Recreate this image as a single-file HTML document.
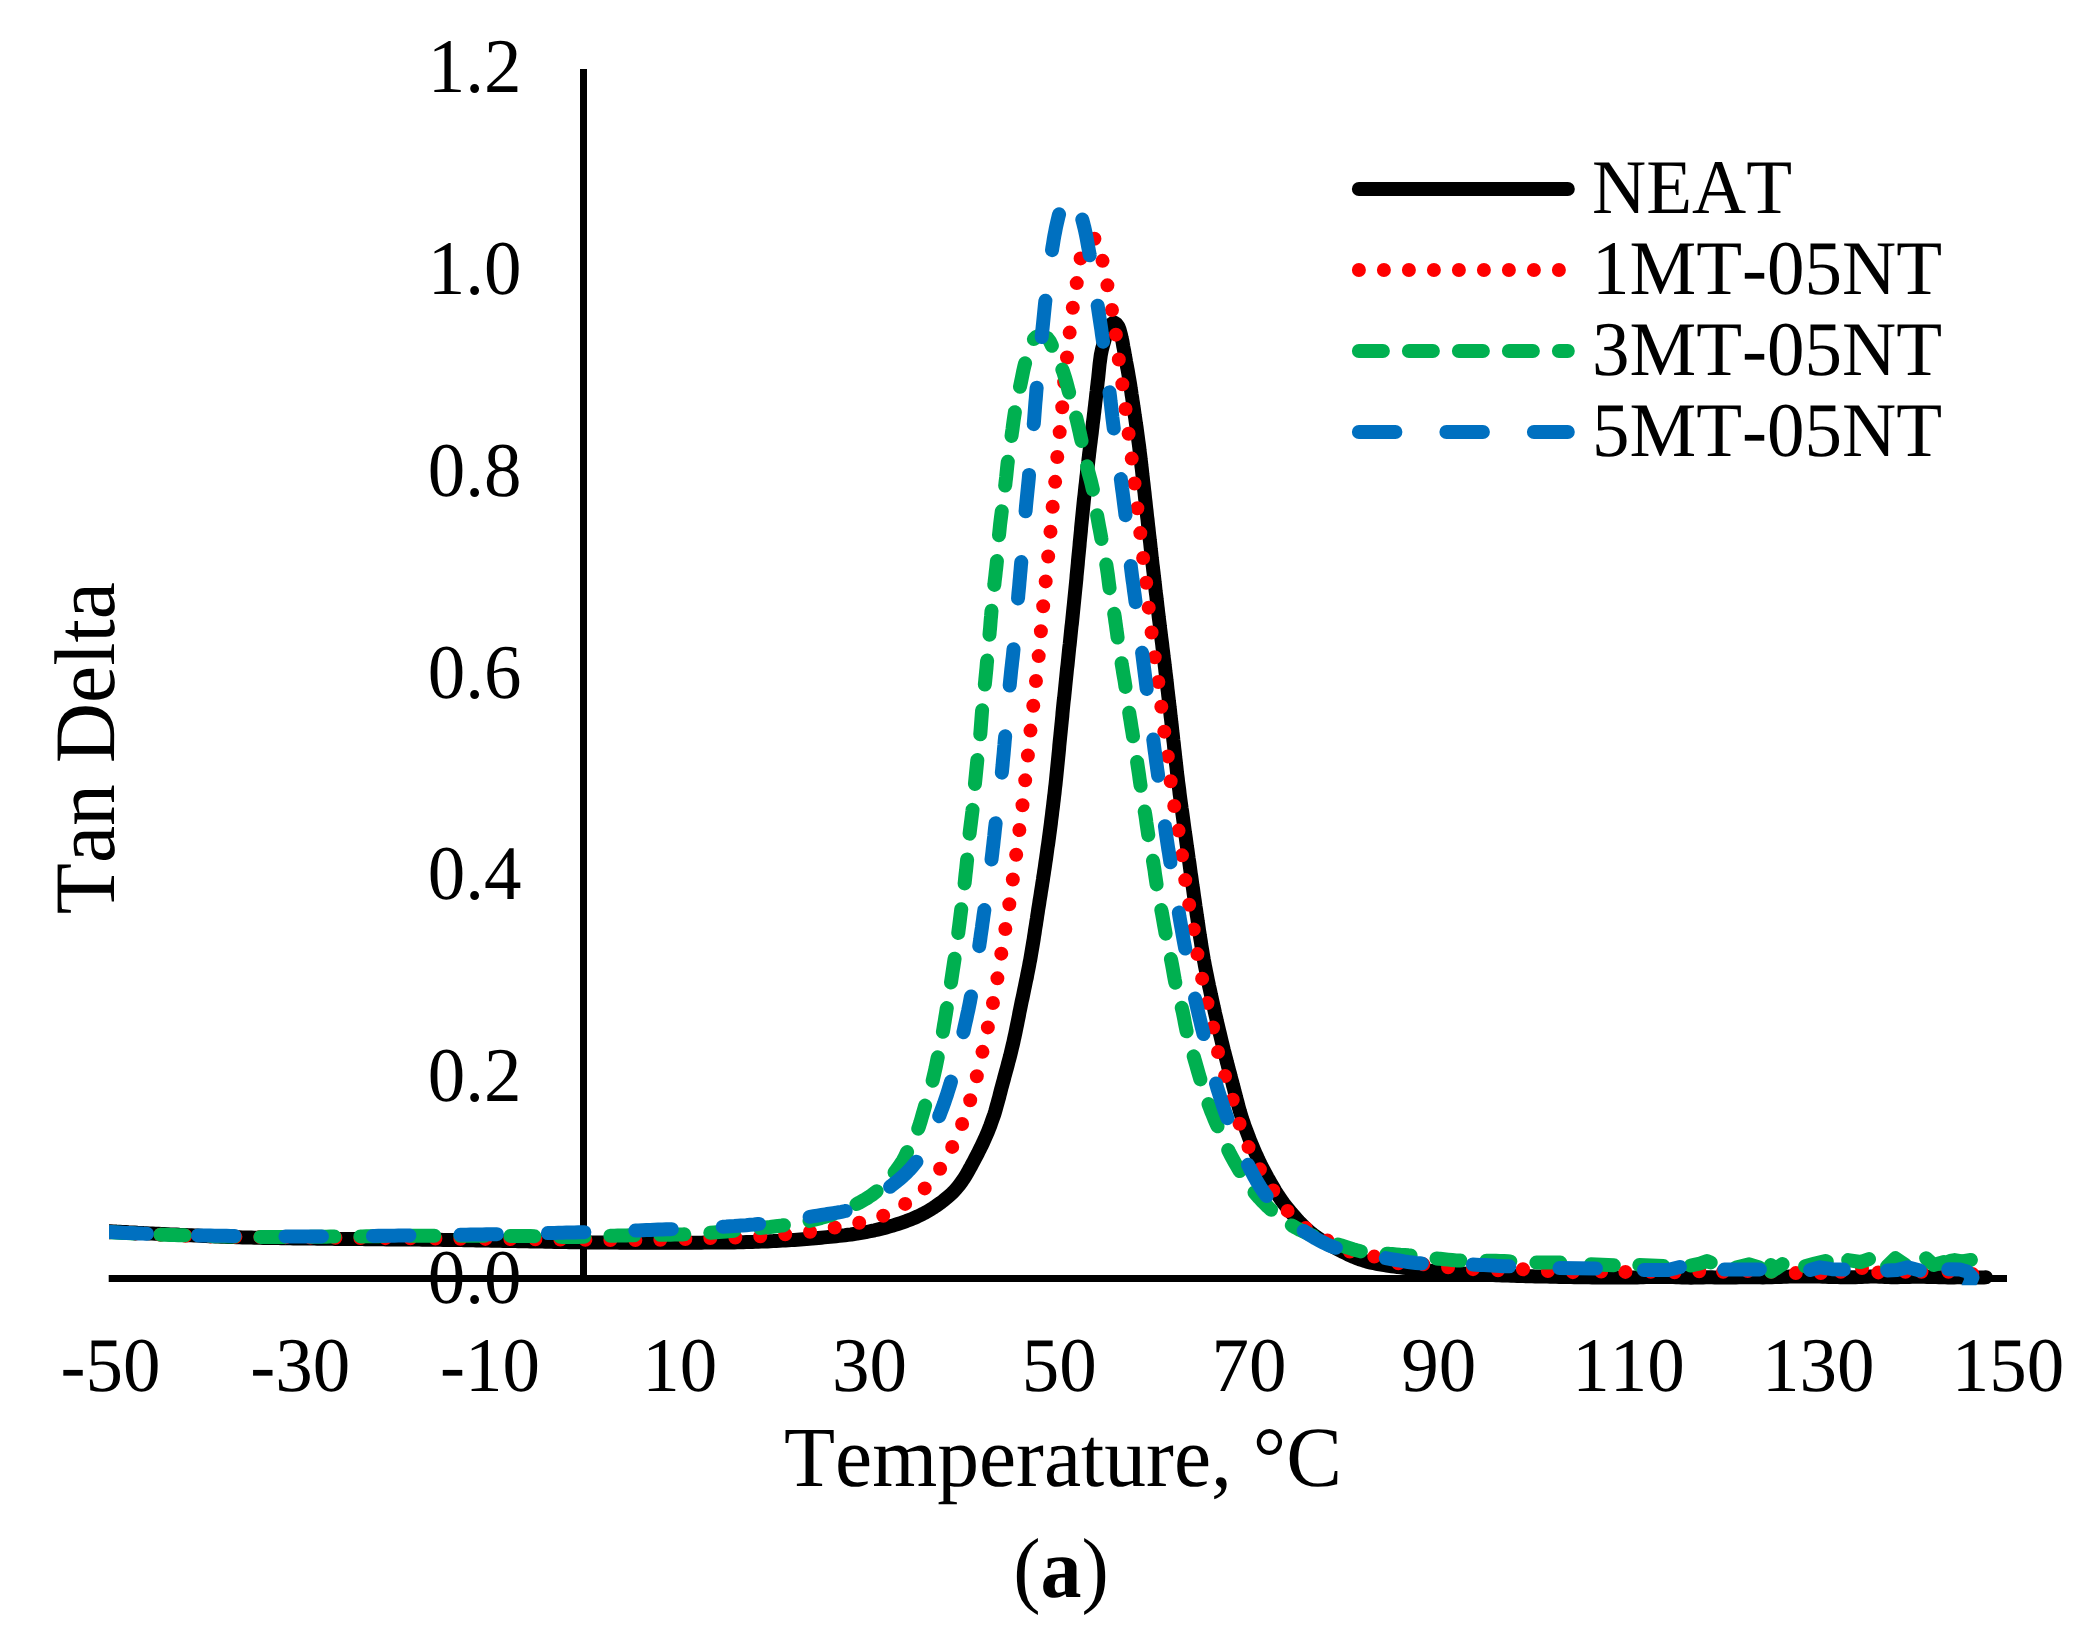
<!DOCTYPE html>
<html lang="en">
<head>
<meta charset="utf-8">
<title>Tan Delta vs Temperature (a)</title>
<style>
html,body{margin:0;padding:0;background:#fff;}
body{width:2079px;height:1641px;overflow:hidden;font-family:"Liberation Serif","Times New Roman",serif;}
svg{display:block;}
svg text{font-kerning:none;font-variant-ligatures:none;text-rendering:geometricPrecision;}
</style>
</head>
<body>
<svg width="2079" height="1641" viewBox="0 0 2079 1641">
<defs><clipPath id="plot"><rect x="109" y="60" width="1900" height="1225.3"/></clipPath></defs>
<rect width="2079" height="1641" fill="#fff"/>
<g stroke="#000" stroke-width="7" fill="none">
<line x1="108.7" y1="1278.5" x2="2007" y2="1278.5"/>
<line x1="583.5" y1="69" x2="583.5" y2="1278.5"/>
</g>
<g clip-path="url(#plot)" fill="none" stroke-width="14" stroke-linecap="round" stroke-linejoin="round">
<path id="s-neat" stroke="#000000" d="M110.5 1231.2L113.5 1231.4L116.5 1231.6L119.5 1231.7L122.5 1231.9L125.5 1232.1L128.5 1232.3L131.5 1232.4L134.5 1232.6L137.5 1232.8L140.5 1232.9
L143.4 1233.1L146.4 1233.2L149.4 1233.4L152.4 1233.5L155.4 1233.7L158.4 1233.8L161.4 1234.0L164.4 1234.1L167.4 1234.2L170.4 1234.4L173.4 1234.5
L176.4 1234.6L179.4 1234.8L182.4 1234.9L185.4 1235.0L188.4 1235.2L191.4 1235.3L194.4 1235.5L197.4 1235.6L200.4 1235.7L203.4 1235.9L206.4 1236.0
L209.4 1236.2L212.4 1236.3L215.4 1236.4L218.4 1236.5L221.4 1236.7L224.4 1236.8L227.4 1236.9L230.4 1237.0L233.4 1237.1L236.4 1237.2L239.4 1237.3
L242.4 1237.4L245.4 1237.5L248.4 1237.6L251.3 1237.6L254.3 1237.7L257.3 1237.8L260.3 1237.8L263.3 1237.9L266.3 1237.9L269.3 1238.0L272.3 1238.0
L275.3 1238.1L278.3 1238.1L281.3 1238.2L284.3 1238.2L287.3 1238.3L290.3 1238.3L293.3 1238.4L296.3 1238.4L299.3 1238.4L302.3 1238.5L305.3 1238.5
L308.3 1238.6L311.3 1238.6L314.3 1238.6L317.3 1238.7L320.3 1238.7L323.3 1238.7L326.3 1238.8L329.3 1238.8L332.3 1238.8L335.3 1238.9L338.3 1238.9
L341.3 1238.9L344.3 1239.0L347.3 1239.0L350.3 1239.0L353.3 1239.1L356.3 1239.1L359.3 1239.1L362.3 1239.1L365.3 1239.2L368.3 1239.2L371.3 1239.2
L374.3 1239.3L377.3 1239.3L380.3 1239.3L383.3 1239.3L386.3 1239.4L389.3 1239.4L392.3 1239.4L395.3 1239.4L398.3 1239.4L401.3 1239.5L404.3 1239.5
L407.3 1239.5L410.3 1239.5L413.3 1239.6L416.3 1239.6L419.3 1239.6L422.3 1239.7L425.3 1239.7L428.3 1239.7L431.3 1239.7L434.3 1239.8L437.3 1239.8
L440.3 1239.8L443.3 1239.9L446.3 1239.9L449.3 1240.0L452.3 1240.0L455.3 1240.0L458.3 1240.1L461.3 1240.1L464.3 1240.2L467.3 1240.2L470.3 1240.3
L473.3 1240.3L476.3 1240.4L479.3 1240.4L482.3 1240.5L485.3 1240.5L488.3 1240.6L491.3 1240.7L494.3 1240.7L497.3 1240.8L500.3 1240.8L503.3 1240.9
L506.3 1240.9L509.3 1241.0L512.3 1241.1L515.3 1241.1L518.3 1241.2L521.3 1241.2L524.3 1241.3L527.3 1241.3L530.3 1241.4L533.3 1241.5L536.3 1241.5
L539.3 1241.6L542.3 1241.6L545.3 1241.7L548.3 1241.8L551.3 1241.8L554.3 1241.9L557.3 1241.9L560.3 1242.0L563.3 1242.1L566.3 1242.1L569.3 1242.2
L572.3 1242.2L575.3 1242.3L578.3 1242.3L581.3 1242.3L584.3 1242.4L587.3 1242.4L590.3 1242.4L593.3 1242.5L596.3 1242.5L599.3 1242.5L602.3 1242.5
L605.3 1242.6L608.3 1242.6L611.3 1242.6L614.3 1242.6L617.3 1242.6L620.3 1242.7L623.3 1242.7L626.3 1242.7L629.3 1242.7L632.3 1242.7L635.3 1242.7
L638.3 1242.8L641.3 1242.8L644.3 1242.8L647.3 1242.8L650.3 1242.8L653.3 1242.8L656.3 1242.8L659.3 1242.8L662.3 1242.8L665.3 1242.8L668.3 1242.8
L671.3 1242.8L674.3 1242.8L677.3 1242.8L680.3 1242.8L683.3 1242.7L686.3 1242.7L689.3 1242.7L692.3 1242.7L695.3 1242.7L698.3 1242.7L701.3 1242.7
L704.3 1242.6L707.3 1242.6L710.3 1242.6L713.3 1242.6L716.3 1242.5L719.3 1242.5L722.3 1242.5L725.3 1242.5L728.3 1242.4L731.3 1242.4L734.3 1242.4
L737.3 1242.3L740.3 1242.2L743.3 1242.2L746.3 1242.1L749.3 1242.0L752.3 1241.9L755.3 1241.8L758.3 1241.7L761.3 1241.6L764.3 1241.5L767.3 1241.4
L770.3 1241.2L773.3 1241.1L776.3 1240.9L779.3 1240.8L782.3 1240.6L785.3 1240.5L788.3 1240.3L791.3 1240.1L794.3 1239.9L797.2 1239.7L800.2 1239.5
L803.2 1239.3L806.2 1239.1L809.2 1238.8L812.2 1238.6L815.2 1238.3L818.2 1238.0L821.2 1237.7L824.2 1237.4L827.1 1237.1L830.1 1236.8L833.1 1236.5
L836.1 1236.2L839.1 1235.9L842.1 1235.5L845.0 1235.2L848.0 1234.8L851.0 1234.5L854.0 1234.0L856.9 1233.6L859.9 1233.1L862.9 1232.6L865.8 1232.1
L868.8 1231.5L871.7 1230.9L874.6 1230.3L877.6 1229.6L880.5 1228.9L883.4 1228.2L886.3 1227.4L889.2 1226.6L892.1 1225.8L894.9 1224.9L897.8 1224.0
L900.6 1223.1L903.5 1222.1L906.3 1221.1L909.1 1220.0L911.9 1218.9L914.7 1217.7L917.4 1216.5L920.1 1215.2L922.8 1213.9L925.5 1212.5L928.1 1211.0
L930.6 1209.5L933.2 1207.9L935.6 1206.3L938.1 1204.5L940.5 1202.8L942.9 1201.0L945.3 1199.1L947.6 1197.2L949.8 1195.3L952.0 1193.2L954.1 1191.1
L956.1 1188.9L958.0 1186.6L959.9 1184.3L961.6 1181.9L963.3 1179.4L964.9 1176.9L966.5 1174.3L968.0 1171.7L969.4 1169.1L970.9 1166.5L972.3 1163.8
L973.7 1161.2L975.1 1158.5L976.5 1155.9L977.9 1153.2L979.2 1150.5L980.6 1147.8L981.9 1145.1L983.2 1142.4L984.4 1139.7L985.6 1137.0L986.8 1134.2
L988.0 1131.4L989.1 1128.7L990.2 1125.9L991.2 1123.0L992.2 1120.2L993.2 1117.4L994.2 1114.6L995.1 1111.7L995.9 1108.8L996.7 1105.9L997.5 1103.1
L998.3 1100.2L999.1 1097.3L999.8 1094.4L1000.6 1091.4L1001.3 1088.5L1002.1 1085.6L1002.9 1082.7L1003.7 1079.9L1004.4 1077.0L1005.2 1074.1
L1006.0 1071.2L1006.8 1068.3L1007.6 1065.4L1008.3 1062.5L1009.1 1059.6L1009.9 1056.7L1010.6 1053.8L1011.3 1050.8L1012.0 1047.9L1012.7 1045.0
L1013.4 1042.1L1014.0 1039.2L1014.7 1036.2L1015.3 1033.3L1015.9 1030.4L1016.5 1027.4L1017.1 1024.5L1017.7 1021.5L1018.3 1018.6L1018.9 1015.7
L1019.4 1012.7L1020.0 1009.8L1020.6 1006.8L1021.2 1003.9L1021.8 1000.9L1022.5 998.0L1023.1 995.1L1023.7 992.1L1024.3 989.2L1024.9 986.3L1025.5 983.3
L1026.1 980.4L1026.8 977.5L1027.3 974.5L1027.9 971.6L1028.5 968.6L1029.1 965.7L1029.6 962.7L1030.2 959.8L1030.7 956.8L1031.2 953.9L1031.7 950.9
L1032.2 948.0L1032.7 945.0L1033.2 942.0L1033.7 939.1L1034.1 936.1L1034.6 933.2L1035.0 930.2L1035.5 927.2L1036.0 924.3L1036.4 921.3L1036.9 918.3
L1037.3 915.4L1037.8 912.4L1038.2 909.4L1038.7 906.5L1039.2 903.5L1039.6 900.5L1040.1 897.6L1040.6 894.6L1041.0 891.6L1041.5 888.7L1042.0 885.7
L1042.4 882.8L1042.9 879.8L1043.3 876.8L1043.8 873.9L1044.2 870.9L1044.7 867.9L1045.1 865.0L1045.5 862.0L1046.0 859.0L1046.4 856.0L1046.8 853.1
L1047.2 850.1L1047.6 847.1L1048.1 844.2L1048.5 841.2L1048.9 838.2L1049.3 835.2L1049.7 832.3L1050.1 829.3L1050.5 826.3L1050.9 823.3L1051.2 820.4
L1051.6 817.4L1052.0 814.4L1052.3 811.4L1052.7 808.5L1053.1 805.5L1053.4 802.5L1053.8 799.5L1054.1 796.5L1054.5 793.6L1054.8 790.6L1055.1 787.6
L1055.5 784.6L1055.8 781.6L1056.1 778.7L1056.4 775.7L1056.7 772.7L1057.0 769.7L1057.3 766.7L1057.6 763.7L1057.9 760.8L1058.2 757.8L1058.5 754.8
L1058.8 751.8L1059.1 748.8L1059.3 745.8L1059.6 742.8L1059.9 739.8L1060.2 736.9L1060.5 733.9L1060.8 730.9L1061.1 727.9L1061.4 724.9L1061.7 721.9
L1062.0 718.9L1062.3 716.0L1062.5 713.0L1062.8 710.0L1063.1 707.0L1063.4 704.0L1063.7 701.0L1064.1 698.0L1064.4 695.1L1064.7 692.1L1065.0 689.1
L1065.3 686.1L1065.6 683.1L1065.9 680.1L1066.2 677.2L1066.5 674.2L1066.8 671.2L1067.1 668.2L1067.5 665.2L1067.8 662.2L1068.1 659.3L1068.4 656.3
L1068.7 653.3L1069.0 650.3L1069.3 647.3L1069.7 644.3L1070.0 641.4L1070.3 638.4L1070.6 635.4L1070.9 632.4L1071.2 629.4L1071.5 626.4L1071.9 623.5
L1072.2 620.5L1072.5 617.5L1072.8 614.5L1073.1 611.5L1073.4 608.5L1073.7 605.6L1074.0 602.6L1074.3 599.6L1074.6 596.6L1074.9 593.6L1075.2 590.6
L1075.5 587.6L1075.8 584.7L1076.1 581.7L1076.4 578.7L1076.6 575.7L1076.9 572.7L1077.2 569.7L1077.5 566.7L1077.8 563.7L1078.0 560.8L1078.3 557.8
L1078.6 554.8L1078.9 551.8L1079.2 548.8L1079.5 545.8L1079.7 542.8L1080.0 539.9L1080.3 536.9L1080.6 533.9L1080.9 530.9L1081.1 527.9L1081.4 524.9
L1081.7 521.9L1082.0 518.9L1082.3 516.0L1082.6 513.0L1082.9 510.0L1083.2 507.0L1083.5 504.0L1083.8 501.0L1084.1 498.1L1084.5 495.1L1084.8 492.1
L1085.1 489.1L1085.4 486.1L1085.8 483.1L1086.1 480.2L1086.4 477.2L1086.8 474.2L1087.1 471.2L1087.5 468.2L1087.8 465.3L1088.2 462.3L1088.5 459.3
L1088.9 456.3L1089.2 453.3L1089.6 450.4L1089.9 447.4L1090.3 444.4L1090.7 441.4L1091.0 438.5L1091.4 435.5L1091.8 432.5L1092.1 429.5L1092.5 426.5
L1092.8 423.6L1093.2 420.6L1093.6 417.6L1093.9 414.6L1094.3 411.7L1094.6 408.7L1095.0 405.7L1095.3 402.7L1095.7 399.7L1096.0 396.8L1096.3 393.8
L1096.7 390.8L1097.0 387.8L1097.4 384.8L1097.7 381.8L1098.1 378.9L1098.4 375.9L1098.7 372.9L1099.0 369.9L1099.3 366.9L1099.6 363.9L1100.0 361.0
L1100.4 358.0L1100.8 355.0L1101.4 352.1L1102.0 349.2L1102.8 346.2L1103.6 343.3L1104.4 340.5L1105.2 337.5L1106.0 334.5L1106.9 331.6L1108.0 328.8
L1109.4 326.4L1111.6 323.8L1114.0 322.5L1116.4 324.0L1118.4 326.7L1119.5 329.4L1120.3 332.3L1121.1 335.3L1121.7 338.2L1122.4 341.1L1122.9 344.1
L1123.4 347.0L1124.0 350.0L1124.5 353.0L1125.0 355.9L1125.6 358.9L1126.1 361.8L1126.7 364.8L1127.2 367.7L1127.8 370.7L1128.3 373.6L1128.8 376.6
L1129.3 379.5L1129.8 382.5L1130.3 385.5L1130.7 388.4L1131.2 391.4L1131.6 394.3L1132.1 397.3L1132.5 400.3L1133.0 403.2L1133.4 406.2L1133.9 409.2
L1134.3 412.1L1134.7 415.1L1135.2 418.1L1135.6 421.1L1136.0 424.0L1136.5 427.0L1136.9 430.0L1137.3 432.9L1137.7 435.9L1138.1 438.9L1138.5 441.9
L1138.9 444.8L1139.3 447.8L1139.6 450.8L1140.0 453.8L1140.4 456.7L1140.7 459.7L1141.1 462.7L1141.4 465.7L1141.8 468.7L1142.1 471.6L1142.4 474.6
L1142.8 477.6L1143.1 480.6L1143.5 483.6L1143.8 486.5L1144.1 489.5L1144.5 492.5L1144.8 495.5L1145.1 498.5L1145.5 501.4L1145.8 504.4L1146.1 507.4
L1146.5 510.4L1146.8 513.4L1147.1 516.4L1147.5 519.3L1147.8 522.3L1148.1 525.3L1148.5 528.3L1148.8 531.3L1149.1 534.2L1149.5 537.2L1149.8 540.2
L1150.2 543.2L1150.5 546.2L1150.8 549.1L1151.2 552.1L1151.5 555.1L1151.8 558.1L1152.2 561.1L1152.5 564.1L1152.9 567.0L1153.2 570.0L1153.6 573.0
L1153.9 576.0L1154.3 579.0L1154.6 581.9L1155.0 584.9L1155.3 587.9L1155.6 590.9L1156.0 593.9L1156.4 596.8L1156.7 599.8L1157.1 602.8L1157.4 605.8
L1157.8 608.7L1158.1 611.7L1158.5 614.7L1158.8 617.7L1159.2 620.7L1159.6 623.6L1159.9 626.6L1160.3 629.6L1160.7 632.6L1161.0 635.5L1161.4 638.5
L1161.8 641.5L1162.2 644.5L1162.5 647.5L1162.9 650.4L1163.3 653.4L1163.6 656.4L1164.0 659.4L1164.4 662.3L1164.7 665.3L1165.1 668.3L1165.4 671.3
L1165.8 674.3L1166.2 677.2L1166.5 680.2L1166.9 683.2L1167.2 686.2L1167.5 689.2L1167.9 692.1L1168.2 695.1L1168.6 698.1L1168.9 701.1L1169.3 704.1
L1169.6 707.0L1170.0 710.0L1170.3 713.0L1170.6 716.0L1171.0 719.0L1171.3 721.9L1171.7 724.9L1172.0 727.9L1172.3 730.9L1172.7 733.9L1173.0 736.8
L1173.3 739.8L1173.7 742.8L1174.0 745.8L1174.3 748.8L1174.7 751.7L1175.0 754.7L1175.3 757.7L1175.7 760.7L1176.0 763.7L1176.4 766.7L1176.7 769.6
L1177.0 772.6L1177.4 775.6L1177.8 778.6L1178.1 781.6L1178.5 784.5L1178.9 787.5L1179.3 790.5L1179.6 793.5L1180.0 796.4L1180.4 799.4L1180.8 802.4
L1181.2 805.3L1181.6 808.3L1182.1 811.3L1182.5 814.3L1182.9 817.2L1183.3 820.2L1183.7 823.2L1184.1 826.1L1184.5 829.1L1184.9 832.1L1185.4 835.1
L1185.8 838.0L1186.2 841.0L1186.6 844.0L1187.0 846.9L1187.5 849.9L1187.9 852.9L1188.3 855.9L1188.7 858.8L1189.2 861.8L1189.6 864.8L1190.0 867.7
L1190.4 870.7L1190.8 873.7L1191.3 876.6L1191.7 879.6L1192.1 882.6L1192.5 885.6L1193.0 888.5L1193.4 891.5L1193.8 894.5L1194.2 897.4L1194.7 900.4
L1195.1 903.4L1195.5 906.3L1196.0 909.3L1196.4 912.3L1196.8 915.2L1197.3 918.2L1197.7 921.2L1198.2 924.2L1198.6 927.1L1199.0 930.1L1199.5 933.1
L1199.9 936.0L1200.4 939.0L1200.9 942.0L1201.3 944.9L1201.8 947.9L1202.3 950.8L1202.8 953.8L1203.3 956.7L1203.8 959.7L1204.4 962.6L1204.9 965.6
L1205.5 968.5L1206.1 971.5L1206.7 974.4L1207.3 977.4L1207.9 980.3L1208.5 983.2L1209.1 986.2L1209.8 989.1L1210.4 992.0L1211.0 995.0L1211.7 997.9
L1212.3 1000.8L1213.0 1003.8L1213.6 1006.7L1214.3 1009.6L1214.9 1012.5L1215.6 1015.5L1216.3 1018.4L1216.9 1021.3L1217.6 1024.2L1218.3 1027.2
L1219.0 1030.1L1219.7 1033.0L1220.4 1035.9L1221.1 1038.8L1221.8 1041.8L1222.5 1044.7L1223.2 1047.6L1223.9 1050.5L1224.7 1053.4L1225.4 1056.3
L1226.2 1059.2L1226.9 1062.1L1227.7 1065.0L1228.4 1067.9L1229.2 1070.8L1230.0 1073.7L1230.7 1076.6L1231.5 1079.5L1232.3 1082.4L1233.0 1085.3
L1233.8 1088.2L1234.5 1091.1L1235.3 1094.0L1236.0 1096.9L1236.8 1099.8L1237.6 1102.7L1238.3 1105.6L1239.1 1108.5L1239.9 1111.4L1240.8 1114.3
L1241.7 1117.2L1242.6 1120.0L1243.6 1122.8L1244.5 1125.7L1245.6 1128.5L1246.6 1131.3L1247.7 1134.1L1248.7 1136.9L1249.8 1139.7L1250.9 1142.5
L1252.1 1145.3L1253.2 1148.0L1254.4 1150.8L1255.6 1153.5L1256.9 1156.3L1258.1 1159.0L1259.4 1161.7L1260.7 1164.4L1262.1 1167.1L1263.5 1169.7
L1264.9 1172.4L1266.3 1175.0L1267.7 1177.7L1269.2 1180.3L1270.7 1182.9L1272.2 1185.5L1273.7 1188.1L1275.2 1190.7L1276.8 1193.2L1278.4 1195.7
L1280.1 1198.2L1281.8 1200.7L1283.5 1203.1L1285.4 1205.5L1287.2 1207.8L1289.1 1210.2L1291.1 1212.5L1293.0 1214.8L1295.0 1217.0L1297.0 1219.3
L1299.0 1221.5L1301.1 1223.7L1303.2 1225.9L1305.3 1227.9L1307.5 1229.9L1309.7 1231.8L1312.0 1233.7L1314.4 1235.5L1316.8 1237.2L1319.3 1238.8
L1321.8 1240.4L1324.4 1242.0L1327.0 1243.5L1329.7 1244.9L1332.3 1246.4L1335.0 1247.8L1337.7 1249.2L1340.3 1250.6L1343.0 1252.0L1345.7 1253.3
L1348.4 1254.6L1351.2 1255.9L1353.9 1257.1L1356.7 1258.2L1359.5 1259.3L1362.3 1260.2L1365.1 1261.1L1368.0 1261.9L1370.9 1262.6L1373.9 1263.2
L1376.8 1263.8L1379.7 1264.4L1382.7 1264.9L1385.7 1265.3L1388.6 1265.8L1391.6 1266.2L1394.6 1266.6L1397.6 1267.0L1400.5 1267.3L1403.5 1267.7
L1406.5 1268.1L1409.5 1268.5L1412.4 1268.8L1415.4 1269.2L1418.4 1269.5L1421.4 1269.9L1424.4 1270.2L1427.4 1270.5L1430.3 1270.8L1433.3 1271.1
L1436.3 1271.4L1439.3 1271.7L1442.3 1272.0L1445.3 1272.3L1448.3 1272.5L1451.3 1272.8L1454.2 1273.0L1457.2 1273.2L1460.2 1273.4L1463.2 1273.6
L1466.2 1273.8L1469.2 1274.0L1472.2 1274.1L1475.2 1274.3L1478.2 1274.4L1481.2 1274.6L1484.2 1274.7L1487.2 1274.8L1490.2 1275.0L1493.2 1275.1
L1496.2 1275.2L1499.2 1275.3L1502.2 1275.4L1505.2 1275.5L1508.2 1275.6L1511.2 1275.7L1514.2 1275.8L1517.2 1275.9L1520.2 1276.0L1523.2 1276.1
L1526.2 1276.2L1529.2 1276.2L1532.2 1276.3L1535.2 1276.4L1538.2 1276.5L1541.2 1276.5L1544.2 1276.6L1547.2 1276.6L1550.2 1276.7L1553.2 1276.8
L1556.2 1276.8L1559.2 1276.9L1562.2 1277.0L1565.2 1277.0L1568.2 1277.1L1571.2 1277.1L1574.2 1277.2L1577.2 1277.2L1580.2 1277.2L1583.2 1277.3
L1586.2 1277.3L1589.2 1277.3L1592.2 1277.4L1595.2 1277.4L1598.2 1277.4L1601.2 1277.4L1604.2 1277.4L1607.2 1277.4L1610.2 1277.4L1613.2 1277.4
L1616.2 1277.4L1619.2 1277.4L1622.2 1277.4L1625.2 1277.4L1628.2 1277.4L1631.1 1277.4L1634.1 1277.4L1637.1 1277.4L1640.1 1277.3L1643.1 1277.2
L1646.1 1277.1L1649.1 1277.1L1652.1 1277.0L1655.1 1277.0L1658.1 1277.0L1661.1 1276.9L1664.1 1276.9L1667.1 1277.0L1670.1 1277.0L1673.1 1277.1
L1676.1 1277.2L1679.1 1277.3L1682.1 1277.4L1685.1 1277.6L1688.1 1277.6L1691.0 1277.7L1694.0 1277.6L1697.0 1277.5L1700.0 1277.4L1703.0 1277.4
L1706.0 1277.3L1709.0 1277.3L1712.0 1277.3L1714.9 1277.4L1717.9 1277.4L1720.9 1277.5L1723.9 1277.5L1726.9 1277.6L1729.9 1277.5L1732.9 1277.5
L1735.9 1277.4L1738.9 1277.3L1741.9 1277.3L1744.9 1277.2L1747.9 1277.2L1750.9 1277.2L1753.9 1277.2L1756.9 1277.3L1759.9 1277.3L1762.9 1277.4
L1765.8 1277.3L1768.8 1277.3L1771.8 1277.2L1774.8 1277.1L1777.8 1277.0L1780.8 1276.9L1783.7 1276.8L1786.7 1276.7L1789.7 1276.6L1792.7 1276.5
L1795.7 1276.5L1798.7 1276.4L1801.7 1276.4L1804.7 1276.4L1807.7 1276.4L1810.7 1276.4L1813.7 1276.5L1816.6 1276.6L1819.6 1276.6L1822.6 1276.7
L1825.6 1276.8L1828.6 1276.9L1831.6 1276.9L1834.6 1277.0L1837.6 1277.1L1840.5 1277.2L1843.5 1277.3L1846.5 1277.3L1849.5 1277.3L1852.5 1277.3
L1855.5 1277.2L1858.5 1277.1L1861.5 1277.0L1864.5 1276.8L1867.4 1276.7L1870.4 1276.6L1873.4 1276.6L1876.3 1276.6L1879.3 1276.7L1882.3 1276.8
L1885.3 1277.0L1888.3 1277.1L1891.3 1277.2L1894.3 1277.2L1897.3 1277.2L1900.2 1277.1L1903.2 1277.0L1906.2 1277.0L1909.2 1276.9L1912.2 1276.8
L1915.2 1276.8L1918.2 1276.8L1921.2 1276.8L1924.2 1276.8L1927.2 1276.9L1930.2 1276.9L1933.1 1277.0L1936.1 1277.1L1939.1 1277.2L1942.1 1277.3
L1945.1 1277.3L1948.1 1277.4L1951.0 1277.4L1954.0 1277.4L1957.0 1277.3L1960.0 1277.3L1963.0 1277.4L1966.0 1277.4L1969.0 1277.5L1972.0 1277.5
L1974.9 1277.6L1977.9 1277.5L1980.9 1277.5L1983.9 1277.4L1985.9 1277.3"/>
<path id="s-1mt" stroke="#FF0000" stroke-dasharray="0 25" d="M110.5 1232.3L114.5 1232.5L118.5 1232.7L122.5 1233.0L126.5 1233.2L130.5 1233.4L134.5 1233.6L138.5 1233.8L142.5 1234.0L146.5 1234.2L150.5 1234.4
L154.5 1234.5L158.5 1234.7L162.4 1234.9L166.4 1235.0L170.4 1235.2L174.4 1235.4L178.4 1235.5L182.4 1235.6L186.4 1235.8L190.4 1235.9L194.4 1236.0
L198.4 1236.1L202.4 1236.2L206.4 1236.3L210.4 1236.4L214.4 1236.5L215.0 1236.5L218.4 1236.6L222.4 1236.6L226.4 1236.7L230.4 1236.8L234.4 1236.8
L238.4 1236.9L242.4 1236.9L246.4 1237.0L250.4 1237.0L254.4 1237.1L258.4 1237.1L262.4 1237.1L266.4 1237.2L270.4 1237.2L274.4 1237.3L278.4 1237.3
L282.4 1237.3L286.4 1237.4L290.4 1237.4L294.4 1237.4L298.4 1237.5L300.0 1237.5L302.4 1237.5L306.4 1237.6L310.4 1237.6L314.4 1237.6L318.4 1237.7
L322.4 1237.7L326.4 1237.7L330.4 1237.8L334.4 1237.8L338.4 1237.8L342.4 1237.8L346.4 1237.9L350.4 1237.9L354.4 1237.9L358.4 1238.0L362.4 1238.0
L366.4 1238.0L370.4 1238.0L374.4 1238.1L378.4 1238.1L382.4 1238.1L386.4 1238.2L390.4 1238.2L394.4 1238.2L398.4 1238.2L402.4 1238.3L406.4 1238.3
L410.4 1238.3L414.4 1238.3L418.4 1238.4L422.4 1238.4L426.4 1238.4L430.4 1238.5L434.4 1238.5L435.0 1238.5L438.4 1238.5L442.4 1238.6L446.4 1238.6
L450.4 1238.6L454.4 1238.6L458.4 1238.7L462.4 1238.7L466.4 1238.7L470.4 1238.8L474.4 1238.8L478.4 1238.8L482.4 1238.9L486.4 1238.9L490.4 1238.9
L494.4 1239.0L498.4 1239.0L502.4 1239.0L506.4 1239.0L510.4 1239.1L514.4 1239.1L518.4 1239.1L522.4 1239.2L526.4 1239.2L530.4 1239.2L534.4 1239.3
L538.4 1239.3L542.4 1239.3L546.4 1239.4L550.4 1239.4L554.4 1239.4L558.4 1239.5L560.0 1239.5L562.4 1239.5L566.4 1239.6L570.4 1239.6L574.4 1239.7
L578.4 1239.7L582.4 1239.8L586.4 1239.8L590.4 1239.9L594.4 1239.9L598.4 1240.0L602.4 1240.0L606.4 1240.0L610.0 1240.0L610.4 1240.0L614.4 1240.0
L618.4 1240.0L622.4 1240.0L626.4 1240.0L630.4 1240.0L634.4 1240.0L636.0 1240.0L638.4 1240.0L642.4 1240.0L646.4 1239.9L650.4 1239.9L654.4 1239.8
L658.4 1239.7L661.0 1239.7L662.4 1239.7L666.4 1239.6L670.4 1239.5L674.4 1239.4L678.4 1239.3L682.4 1239.2L686.0 1239.1L686.4 1239.1L690.4 1238.9
L694.4 1238.8L698.4 1238.6L702.4 1238.4L706.4 1238.2L710.4 1238.1L710.6 1238.1L714.4 1238.0L718.4 1237.9L722.4 1237.8L726.4 1237.7L730.4 1237.6
L734.4 1237.5L735.5 1237.5L738.4 1237.4L742.4 1237.2L746.4 1237.0L750.3 1236.8L754.3 1236.6L758.3 1236.3L760.5 1236.2L762.3 1236.1L766.3 1235.8
L770.3 1235.5L774.3 1235.2L778.3 1234.9L782.3 1234.6L785.5 1234.3L786.3 1234.2L790.2 1233.9L794.2 1233.5L798.2 1233.2L802.2 1232.8L806.2 1232.3
L810.1 1231.8L810.5 1231.8L814.1 1231.3L818.0 1230.7L822.0 1230.0L825.9 1229.2L829.8 1228.5L833.8 1227.7L835.1 1227.5L837.7 1227.0L841.7 1226.3
L845.6 1225.6L849.5 1224.8L853.5 1224.1L857.4 1223.2L859.6 1222.7L861.2 1222.3L865.1 1221.3L869.0 1220.3L872.9 1219.2L876.7 1218.0L880.5 1216.7
L883.6 1215.6L884.2 1215.4L887.8 1213.8L891.4 1212.0L895.0 1210.1L898.5 1208.1L901.9 1205.9L905.3 1203.8L905.7 1203.5L908.6 1201.6L911.8 1199.2
L915.1 1196.8L918.2 1194.3L921.3 1191.7L924.2 1188.9L925.0 1188.1L926.9 1186.1L929.5 1183.1L932.1 1180.0L934.5 1176.8L936.9 1173.5L939.1 1170.2
L940.4 1168.3L941.3 1166.9L943.4 1163.5L945.4 1160.0L947.3 1156.5L949.2 1152.9L951.0 1149.4L952.4 1146.5L952.8 1145.8L954.5 1142.2L956.1 1138.5
L957.7 1134.8L959.3 1131.2L960.8 1127.4L962.2 1123.7L962.4 1123.3L963.6 1120.0L965.0 1116.2L966.3 1112.4L967.6 1108.6L968.8 1104.8L970.0 1101.0
L970.4 1099.6L971.1 1097.2L972.2 1093.3L973.3 1089.5L974.4 1085.6L975.4 1081.8L976.4 1077.9L977.0 1075.5L977.4 1074.0L978.3 1070.1L979.2 1066.2
L980.1 1062.3L981.0 1058.4L981.9 1054.5L982.6 1051.2L982.7 1050.6L983.6 1046.7L984.5 1042.8L985.4 1038.9L986.2 1035.0L987.1 1031.1L987.9 1027.2
L988.0 1026.8L988.8 1023.3L989.6 1019.4L990.4 1015.4L991.2 1011.5L992.1 1007.6L992.8 1003.7L993.1 1002.3L993.6 999.8L994.3 995.8L995.0 991.9
L995.8 987.9L996.4 984.0L997.1 980.1L997.5 977.8L997.8 976.1L998.4 972.2L999.0 968.2L999.6 964.3L1000.2 960.3L1000.9 956.4L1001.4 952.9L1001.5 952.4
L1002.1 948.5L1002.8 944.5L1003.4 940.6L1004.1 936.6L1004.7 932.7L1005.4 928.7L1005.5 928.0L1006.0 924.8L1006.7 920.8L1007.3 916.9L1008.0 912.9
L1008.6 909.0L1009.2 905.0L1009.4 903.8L1009.8 901.1L1010.4 897.1L1010.9 893.2L1011.5 889.2L1012.0 885.2L1012.6 881.3L1012.9 878.9L1013.1 877.3
L1013.7 873.3L1014.2 869.4L1014.8 865.4L1015.3 861.5L1015.8 857.5L1016.3 854.0L1016.4 853.5L1016.9 849.6L1017.4 845.6L1017.9 841.6L1018.4 837.7
L1018.9 833.7L1019.4 829.7L1019.5 828.9L1019.9 825.8L1020.4 821.8L1020.9 817.8L1021.4 813.9L1021.9 809.9L1022.4 805.9L1022.6 804.3L1022.9 801.9
L1023.3 798.0L1023.8 794.0L1024.2 790.0L1024.6 786.0L1025.0 782.1L1025.3 779.5L1025.5 778.1L1025.9 774.1L1026.3 770.1L1026.8 766.1L1027.2 762.2
L1027.6 758.2L1028.0 754.6L1028.0 754.2L1028.5 750.2L1028.9 746.3L1029.3 742.3L1029.7 738.3L1030.1 734.3L1030.5 730.3L1030.6 729.7L1031.0 726.4
L1031.4 722.4L1031.8 718.4L1032.3 714.4L1032.7 710.5L1033.2 706.5L1033.4 704.4L1033.6 702.5L1034.0 698.5L1034.5 694.6L1034.9 690.6L1035.3 686.6
L1035.8 682.6L1036.1 679.6L1036.2 678.7L1036.6 674.7L1037.1 670.7L1037.5 666.7L1038.0 662.8L1038.4 658.8L1038.8 655.0L1038.8 654.8L1039.2 650.8
L1039.6 646.8L1039.9 642.9L1040.2 638.9L1040.6 634.9L1040.9 630.9L1041.0 630.1L1041.3 626.9L1041.7 622.9L1042.0 618.9L1042.4 615.0L1042.8 611.0
L1043.1 607.0L1043.3 605.3L1043.5 603.0L1043.9 599.0L1044.3 595.1L1044.7 591.1L1045.1 587.1L1045.5 583.1L1045.8 580.4L1045.9 579.1L1046.3 575.2
L1046.7 571.2L1047.1 567.2L1047.5 563.2L1047.9 559.2L1048.3 555.5L1048.3 555.3L1048.7 551.3L1049.1 547.3L1049.4 543.3L1049.8 539.3L1050.1 535.3
L1050.5 531.4L1050.6 530.2L1050.9 527.4L1051.2 523.4L1051.5 519.4L1051.9 515.4L1052.2 511.4L1052.6 507.4L1052.8 505.4L1053.0 503.5L1053.4 499.5
L1053.8 495.5L1054.2 491.5L1054.6 487.5L1055.0 483.6L1055.3 480.5L1055.4 479.6L1055.7 475.6L1056.1 471.6L1056.4 467.6L1056.7 463.6L1057.0 459.7
L1057.4 455.7L1057.4 455.6L1057.8 451.7L1058.1 447.7L1058.5 443.7L1058.9 439.7L1059.3 435.8L1059.7 431.8L1059.8 430.6L1060.1 427.8L1060.5 423.8
L1060.9 419.8L1061.4 415.9L1061.8 411.9L1062.2 407.9L1062.4 405.3L1062.5 403.9L1062.8 399.9L1063.1 395.9L1063.4 392.0L1063.7 388.0L1064.0 384.0
L1064.3 380.9L1064.4 380.0L1064.8 376.0L1065.2 372.0L1065.7 368.1L1066.2 364.1L1066.7 360.1L1067.1 356.2L1067.2 355.5L1067.6 352.2L1068.0 348.2
L1068.4 344.2L1068.8 340.2L1069.2 336.3L1069.7 332.3L1069.8 331.1L1070.1 328.3L1070.6 324.3L1071.1 320.4L1071.6 316.4L1072.2 312.4L1072.7 308.5
L1073.1 305.8L1073.3 304.5L1073.9 300.6L1074.5 296.6L1075.2 292.7L1075.8 288.7L1076.5 284.8L1077.0 281.4L1077.1 280.8L1077.7 276.8L1078.2 272.8
L1078.7 268.8L1079.3 264.8L1080.0 260.9L1080.9 257.1L1080.9 257.0L1082.1 253.3L1083.7 249.4L1085.8 245.8L1088.0 243.0L1088.1 242.9L1091.6 240.2
L1095.1 238.5L1095.5 238.5L1097.4 240.3L1099.1 244.8L1099.8 247.0L1100.3 248.8L1101.1 252.7L1101.8 256.7L1102.5 260.6L1102.7 261.5L1103.3 264.6
L1104.1 268.5L1104.9 272.4L1105.7 276.3L1106.4 280.2L1107.2 284.2L1107.6 286.3L1107.9 288.1L1108.7 292.0L1109.4 296.0L1110.2 299.9L1110.9 303.8
L1111.6 307.8L1112.1 310.7L1112.3 311.7L1112.9 315.7L1113.6 319.6L1114.2 323.5L1114.9 327.5L1115.5 331.5L1116.0 335.4L1116.0 335.4L1116.5 339.4
L1117.0 343.4L1117.4 347.3L1117.8 351.3L1118.3 355.3L1118.8 359.3L1118.9 360.4L1119.3 363.2L1119.8 367.2L1120.4 371.1L1121.0 375.1L1121.6 379.1
L1122.2 383.0L1122.4 384.8L1122.7 387.0L1123.2 390.9L1123.8 394.9L1124.3 398.9L1124.8 402.8L1125.3 406.8L1125.7 410.1L1125.8 410.8L1126.3 414.8
L1126.8 418.7L1127.3 422.7L1127.7 426.7L1128.2 430.6L1128.7 434.5L1128.7 434.6L1129.2 438.6L1129.7 442.5L1130.2 446.5L1130.7 450.5L1131.2 454.4
L1131.7 458.4L1131.9 459.8L1132.2 462.4L1132.7 466.4L1133.1 470.3L1133.6 474.3L1134.0 478.3L1134.4 482.3L1134.7 484.6L1134.9 486.2L1135.3 490.2
L1135.8 494.2L1136.2 498.2L1136.7 502.1L1137.1 506.1L1137.5 509.5L1137.6 510.1L1138.0 514.1L1138.5 518.0L1139.0 522.0L1139.4 526.0L1139.9 529.9
L1140.4 533.9L1140.4 534.3L1140.8 537.9L1141.3 541.9L1141.7 545.8L1142.2 549.8L1142.7 553.8L1143.1 557.8L1143.3 559.2L1143.6 561.7L1144.1 565.7
L1144.6 569.7L1145.1 573.6L1145.6 577.6L1146.1 581.6L1146.4 584.5L1146.5 585.6L1146.9 589.5L1147.3 593.5L1147.7 597.5L1148.1 601.5L1148.5 605.5
L1148.9 609.4L1148.9 609.4L1149.3 613.4L1149.8 617.4L1150.3 621.4L1150.8 625.3L1151.2 629.3L1151.7 633.3L1151.8 633.8L1152.2 637.2L1152.7 641.2
L1153.2 645.2L1153.7 649.1L1154.2 653.1L1154.7 657.1L1155.0 659.0L1155.3 661.0L1155.9 665.0L1156.5 669.0L1157.1 672.9L1157.7 676.9L1158.2 680.8
L1158.6 683.6L1158.8 684.8L1159.2 688.8L1159.7 692.7L1160.2 696.7L1160.6 700.7L1161.1 704.7L1161.5 708.5L1161.5 708.6L1162.0 712.6L1162.4 716.6
L1162.9 720.5L1163.4 724.5L1163.9 728.5L1164.4 732.5L1164.5 733.4L1164.9 736.4L1165.5 740.4L1166.1 744.3L1166.6 748.3L1167.2 752.3L1167.8 756.2
L1168.0 758.0L1168.3 760.2L1168.7 764.2L1169.2 768.1L1169.6 772.1L1170.1 776.1L1170.5 780.1L1170.9 783.1L1171.0 784.0L1171.6 788.0L1172.1 792.0
L1172.7 795.9L1173.3 799.9L1173.9 803.8L1174.5 807.7L1174.5 807.8L1175.2 811.7L1175.9 815.7L1176.6 819.6L1177.3 823.5L1178.0 827.5L1178.7 831.4
L1178.9 832.6L1179.3 835.4L1179.9 839.3L1180.4 843.3L1181.0 847.2L1181.5 851.2L1182.0 855.2L1182.3 857.4L1182.5 859.1L1183.0 863.1L1183.5 867.1
L1184.1 871.0L1184.6 875.0L1185.1 879.0L1185.5 881.8L1185.7 882.9L1186.3 886.9L1186.9 890.8L1187.5 894.8L1188.2 898.7L1188.8 902.7L1189.5 906.6
L1189.5 906.6L1190.2 910.6L1191.0 914.5L1191.7 918.4L1192.5 922.4L1193.2 926.3L1193.9 930.2L1194.1 931.4L1194.5 934.2L1195.1 938.1L1195.7 942.1
L1196.2 946.0L1196.8 950.0L1197.4 954.0L1197.8 956.3L1198.1 957.9L1198.8 961.8L1199.5 965.8L1200.3 969.7L1201.1 973.6L1201.9 977.5L1202.6 980.9
L1202.7 981.5L1203.5 985.4L1204.4 989.3L1205.3 993.2L1206.1 997.1L1207.0 1001.0L1207.9 1004.9L1208.0 1005.3L1208.8 1008.8L1209.7 1012.7L1210.6 1016.6
L1211.5 1020.5L1212.4 1024.4L1213.3 1028.3L1213.6 1029.7L1214.1 1032.2L1214.9 1036.1L1215.6 1040.1L1216.4 1044.0L1217.2 1047.9L1218.0 1051.8
L1218.5 1054.0L1218.9 1055.7L1220.0 1059.6L1221.1 1063.4L1222.3 1067.2L1223.5 1071.0L1224.7 1074.8L1225.6 1077.7L1225.9 1078.7L1227.1 1082.5
L1228.4 1086.3L1229.6 1090.1L1230.8 1093.9L1232.1 1097.7L1233.3 1101.5L1233.5 1102.3L1234.4 1105.3L1235.5 1109.2L1236.5 1113.1L1237.5 1116.9
L1238.6 1120.8L1239.8 1124.6L1240.2 1125.8L1241.1 1128.4L1242.4 1132.1L1243.9 1135.9L1245.4 1139.6L1246.9 1143.3L1248.5 1147.0L1249.3 1148.7
L1250.2 1150.6L1251.9 1154.2L1253.7 1157.8L1255.5 1161.3L1257.5 1164.9L1259.4 1168.4L1260.8 1170.8L1261.4 1171.8L1263.4 1175.3L1265.5 1178.7
L1267.7 1182.0L1269.9 1185.4L1272.1 1188.7L1274.3 1192.0L1274.3 1192.0L1276.5 1195.4L1278.8 1198.7L1281.0 1202.1L1283.3 1205.4L1285.7 1208.6
L1288.2 1211.6L1288.7 1212.2L1290.9 1214.6L1293.6 1217.5L1296.5 1220.3L1299.5 1223.0L1302.6 1225.6L1305.8 1228.0L1307.0 1228.9L1309.0 1230.3
L1312.4 1232.4L1315.8 1234.4L1319.3 1236.3L1322.9 1238.2L1326.5 1240.1L1329.1 1241.4L1330.1 1241.9L1333.6 1243.8L1337.1 1245.8L1340.7 1247.7
L1344.3 1249.4L1348.0 1250.9L1351.2 1252.0L1351.7 1252.2L1355.6 1253.1L1359.5 1253.9L1363.4 1254.6L1367.4 1255.3L1371.4 1256.0L1375.3 1256.8
L1375.3 1256.8L1379.2 1257.8L1383.0 1259.1L1386.9 1260.3L1390.7 1261.6L1394.6 1262.6L1398.5 1263.3L1400.3 1263.5L1402.4 1263.6L1406.4 1263.8
L1410.4 1264.0L1414.4 1264.1L1418.4 1264.2L1422.4 1264.3L1425.3 1264.5L1426.4 1264.6L1430.4 1264.9L1434.3 1265.4L1438.3 1265.9L1442.3 1266.5
L1446.2 1267.0L1450.2 1267.4L1450.3 1267.4L1454.2 1267.8L1458.2 1268.1L1462.2 1268.4L1466.2 1268.7L1470.2 1269.0L1474.2 1269.2L1475.3 1269.3
L1478.1 1269.5L1482.1 1269.7L1486.1 1269.9L1490.1 1270.1L1494.1 1270.2L1498.1 1270.3L1500.3 1270.3L1502.1 1270.3L1506.1 1270.2L1510.1 1270.0
L1514.1 1269.7L1518.1 1269.5L1522.1 1269.3L1525.4 1269.3L1526.1 1269.3L1530.1 1269.4L1534.1 1269.7L1538.1 1270.1L1542.1 1270.5L1546.0 1270.9
L1550.0 1271.2L1550.4 1271.2L1554.0 1271.4L1558.0 1271.6L1562.0 1271.8L1566.0 1271.9L1570.0 1272.1L1574.0 1272.2L1575.4 1272.2L1578.0 1272.2
L1582.0 1272.3L1586.0 1272.3
M1601.2 1271.5h.01M1625.4 1271.9h.01M1650.8 1271.8h.01M1674.6 1272.2h.01M1699.2 1271.2h.01M1723.1 1271.8h.01M1747.7 1271.1h.01M1771.2 1271.8h.01M1795.8 1273.1h.01M1820.8 1273.0h.01M1840.8 1271.8h.01M1862.0 1268.0h.01M1878.3 1272.4h.01M1905.4 1271.8h.01M1921.5 1271.8h.01M1948.5 1271.8h.01M1972.3 1274.0h.01"/>
<path id="s-3mt" stroke="#00B050" stroke-dasharray="24 26" d="M110.5 1232.3L114.5 1232.5L118.5 1232.7L122.5 1232.9L126.5 1233.1L130.5 1233.3L134.5 1233.5L138.5 1233.7L142.5 1233.9L146.5 1234.1L150.5 1234.2
L154.5 1234.4L158.5 1234.6L162.4 1234.7L166.4 1234.8L170.4 1235.0L172.0 1235.0L174.4 1235.1L178.4 1235.2L182.4 1235.3L186.4 1235.4L190.4 1235.5
L194.4 1235.6L198.4 1235.7L202.4 1235.9L206.4 1236.0L210.4 1236.1L214.4 1236.2L218.4 1236.3L222.4 1236.3L226.4 1236.4L230.4 1236.5L234.4 1236.6
L238.4 1236.6L242.4 1236.7L246.4 1236.8L250.4 1236.8L254.4 1236.8L258.4 1236.9L262.4 1236.9L266.4 1236.9L268.0 1236.9L270.4 1236.9L274.4 1236.9
L278.4 1236.9L282.4 1236.9L286.4 1236.9L290.4 1236.9L294.4 1236.8L298.4 1236.8L302.4 1236.8L306.4 1236.8L310.4 1236.8L314.4 1236.7L318.4 1236.7
L322.4 1236.7L326.4 1236.7L330.4 1236.6L334.4 1236.6L338.4 1236.6L342.4 1236.6L346.4 1236.5L350.0 1236.5L350.4 1236.5L354.4 1236.5L358.4 1236.4
L362.4 1236.4L366.4 1236.3L370.4 1236.3L374.4 1236.2L378.4 1236.2L382.4 1236.1L386.4 1236.1L390.4 1236.0L394.4 1236.0L398.4 1235.9L402.4 1235.9
L406.4 1235.8L410.4 1235.8L414.4 1235.8L418.4 1235.7L422.4 1235.7L426.4 1235.7L429.5 1235.7L430.4 1235.7L434.4 1235.7L438.4 1235.7L442.4 1235.7
L446.4 1235.7L450.4 1235.7L454.4 1235.7L458.4 1235.7L462.4 1235.7L466.4 1235.8L470.4 1235.8L474.4 1235.8L478.4 1235.8L482.4 1235.8L486.4 1235.8
L490.4 1235.8L494.4 1235.8L498.4 1235.9L502.4 1235.9L506.4 1235.9L510.4 1235.9L514.4 1236.0L518.4 1236.0L522.4 1236.0L523.0 1236.0L526.4 1236.0
L530.4 1236.1L534.4 1236.2L538.4 1236.3L542.4 1236.4L546.4 1236.5L550.4 1236.6L554.4 1236.7L558.4 1236.8L562.4 1236.9L566.4 1237.0L570.4 1237.0
L571.0 1237.0L574.4 1237.0L578.4 1236.9L582.4 1236.8L586.4 1236.7L590.4 1236.6L594.4 1236.4L598.4 1236.3L602.4 1236.1L606.4 1236.0L610.4 1235.8
L614.4 1235.7L617.7 1235.6L618.4 1235.6L622.4 1235.5L626.4 1235.4L630.4 1235.3L634.4 1235.3L638.4 1235.2L642.4 1235.2L646.4 1235.1L650.4 1235.0
L654.4 1235.0L658.4 1234.9L662.4 1234.8L666.4 1234.8L670.4 1234.7L674.4 1234.6L678.4 1234.5L682.4 1234.4L685.0 1234.3L686.4 1234.3L690.4 1234.1
L694.4 1233.9L698.4 1233.6L702.3 1233.3L706.3 1233.0L710.3 1232.7L714.0 1232.4L714.3 1232.4L718.3 1232.1L722.3 1231.7L726.3 1231.4L730.3 1231.1
L734.2 1230.7L738.2 1230.3L742.2 1230.0L746.2 1229.6L750.2 1229.2L754.2 1228.8L758.1 1228.3L762.1 1227.9L766.1 1227.4L770.1 1227.0L774.0 1226.5
L778.0 1226.0L781.0 1225.6L782.0 1225.5L785.9 1224.9L789.9 1224.4L793.9 1223.8L797.9 1223.2L801.8 1222.5L805.7 1221.7L809.6 1220.9L810.0 1220.8
L813.4 1220.0L817.3 1219.0L821.2 1217.9L825.1 1216.7L829.1 1215.5L833.0 1214.2L836.8 1212.7L840.7 1211.3L844.5 1209.7L848.2 1208.1L851.9 1206.4
L855.5 1204.6L859.0 1202.8L862.4 1200.9L865.7 1199.0L867.8 1197.7L868.8 1197.0L872.0 1194.9L875.1 1192.5L878.1 1189.9L881.1 1187.2L884.1 1184.4
L887.0 1181.4L889.7 1178.3L892.4 1175.1L895.0 1171.9L897.5 1168.6L899.8 1165.3L902.0 1162.0L902.5 1161.2L903.9 1158.7L905.7 1155.0L907.4 1151.4
L907.5 1151.1L909.2 1147.8L911.0 1144.2L912.9 1140.7L914.7 1137.1L916.3 1133.5L917.8 1129.9L917.8 1129.8L919.2 1126.0L920.4 1122.2L921.5 1118.4
L922.6 1114.5L923.7 1110.7L924.8 1106.8L925.5 1104.3L925.9 1103.0L927.1 1099.1L928.3 1095.3L929.5 1091.5L930.7 1087.7L931.8 1083.9L932.4 1081.6
L932.8 1080.0L933.7 1076.1L934.6 1072.2L935.5 1068.3L936.3 1064.4L937.1 1060.4L937.9 1056.5L938.0 1056.0L938.7 1052.6L939.5 1048.7L940.4 1044.8
L941.2 1040.9L941.9 1036.9L942.6 1033.4L942.7 1033.0L943.4 1029.1L944.0 1025.1L944.7 1021.2L945.3 1017.2L946.0 1013.3L946.6 1009.3L947.0 1007.0
L947.3 1005.4L947.9 1001.4L948.6 997.5L949.2 993.5L949.9 989.6L950.5 985.7L950.7 984.4L951.1 981.7L951.7 977.7L952.3 973.8L952.9 969.8L953.5 965.9
L954.1 961.9L954.7 958.0L954.8 957.3L955.3 954.0L955.8 950.1L956.4 946.1L957.0 942.1L957.5 938.2L958.0 934.6L958.1 934.2L958.6 930.2L959.1 926.3
L959.6 922.3L960.1 918.3L960.5 915.0L960.6 914.4L961.1 910.4L961.6 906.4L962.2 902.5L962.7 898.5L963.2 894.5L963.7 890.6L964.2 886.6L964.4 884.8
L964.7 882.6L965.1 878.7L965.5 874.7L966.0 870.7L966.4 866.7L966.8 862.7L967.2 858.8L967.3 857.7L967.6 854.8L968.0 850.8L968.3 846.8L968.7 842.8
L969.0 838.8L969.4 834.9L969.5 834.3L969.9 830.9L970.4 826.9L970.9 823.0L971.4 819.0L971.9 815.0L972.4 811.0L972.7 808.0L972.8 807.1L973.2 803.1
L973.6 799.1L973.9 795.1L974.3 791.1L974.7 787.2L974.9 784.6L975.0 783.2L975.4 779.2L975.8 775.2L976.2 771.2L976.6 767.2L977.0 763.3L977.4 759.3
L977.5 758.3L977.8 755.3L978.3 751.3L978.8 747.4L979.3 743.4L979.7 739.4L980.1 735.4L980.2 734.8L980.5 731.5L980.8 727.5L981.1 723.5L981.4 719.5
L981.7 715.5L982.0 711.5L982.2 709.3L982.4 707.5L982.8 703.6L983.2 699.6L983.6 695.6L984.1 691.6L984.5 687.6L984.9 683.7L985.3 680.0L985.3 679.7
L985.7 675.7L986.1 671.7L986.5 667.7L986.8 663.8L987.2 659.8L987.3 658.7L987.6 655.8L987.9 651.8L988.3 647.8L988.7 643.8L989.0 639.9L989.4 635.9
L989.5 634.5L989.7 631.9L990.1 627.9L990.4 623.9L990.7 619.9L991.1 615.9L991.4 612.0L991.7 608.9L991.8 608.0L992.2 604.0L992.6 600.0L993.0 596.0
L993.5 592.1L993.9 588.1L994.2 585.5L994.4 584.1L994.8 580.1L995.3 576.2L995.7 572.2L996.2 568.2L996.6 564.2L997.0 560.3L997.1 559.2L997.4 556.3
L997.7 552.3L998.0 548.3L998.2 544.3L998.5 540.3L998.9 536.3L999.0 535.0L999.3 532.4L999.7 528.4L1000.1 524.4L1000.6 520.4L1001.1 516.5L1001.6 512.5
L1001.9 510.2L1002.1 508.5L1002.6 504.6L1003.2 500.6L1003.7 496.6L1004.3 492.7L1004.8 488.7L1005.2 485.3L1005.3 484.7L1005.7 480.8L1006.2 476.8
L1006.6 472.8L1007.0 468.8L1007.4 464.9L1007.9 460.9L1008.0 460.2L1008.4 456.9L1009.0 453.0L1009.6 449.0L1010.2 445.0L1010.8 441.1L1011.4 437.1
L1011.6 435.5L1011.9 433.2L1012.5 429.2L1013.0 425.2L1013.5 421.3L1014.1 417.3L1014.7 413.4L1015.2 410.1L1015.3 409.4L1016.0 405.5L1016.8 401.6
L1017.6 397.6L1018.5 393.7L1019.3 389.8L1020.0 386.7L1020.2 385.9L1021.0 382.0L1021.8 378.1L1022.6 374.1L1023.4 370.2L1024.3 366.3L1025.3 362.5
L1025.3 362.4L1026.3 358.5L1027.3 354.3L1028.4 350.2L1029.7 346.3L1031.3 342.8L1033.0 340.0L1033.1 339.8L1036.2 337.0L1039.9 335.5L1040.0 335.5
L1043.9 336.4L1047.5 338.3L1047.7 338.5L1049.7 341.0L1051.5 344.8L1053.2 348.8L1053.6 349.7L1054.9 352.4L1056.6 356.0L1058.3 359.7L1059.9 363.4
L1061.4 367.1L1062.8 370.8L1063.3 372.1L1064.1 374.6L1065.3 378.4L1066.4 382.2L1067.4 386.1L1068.4 390.0L1069.5 393.8L1070.2 396.5L1070.5 397.7
L1071.6 401.5L1072.7 405.4L1073.9 409.2L1074.9 413.1L1076.0 416.9L1077.0 420.8L1077.0 420.9L1077.9 424.7L1078.8 428.6L1079.7 432.5L1080.5 436.4
L1081.4 440.3L1082.2 444.2L1082.2 444.2L1083.1 448.1L1083.9 452.1L1084.8 456.0L1085.6 459.9L1086.5 463.8L1087.4 467.7L1087.6 468.5L1088.3 471.6
L1089.3 475.4L1090.4 479.3L1091.4 483.2L1092.3 487.1L1093.2 491.0L1093.4 492.0L1093.9 494.9L1094.6 498.8L1095.2 502.8L1095.8 506.7L1096.4 510.7
L1097.0 514.7L1097.4 516.8L1097.7 518.6L1098.4 522.5L1099.1 526.5L1099.9 530.4L1100.6 534.3L1101.3 538.3L1102.1 542.2L1102.1 542.4L1102.8 546.1
L1103.6 550.1L1104.3 554.0L1105.1 557.9L1105.8 561.8L1106.5 565.8L1106.5 565.8L1107.1 569.7L1107.7 573.7L1108.2 577.7L1108.7 581.6L1109.2 585.6
L1109.8 589.6L1110.1 591.4L1110.4 593.5L1111.1 597.4L1111.9 601.4L1112.7 605.3L1113.4 609.2L1114.1 613.2L1114.5 615.5L1114.8 617.1L1115.3 621.1
L1115.9 625.0L1116.4 629.0L1117.0 633.0L1117.5 636.9L1118.1 640.9L1118.2 641.8L1118.7 644.8L1119.3 648.8L1119.9 652.7L1120.5 656.7L1121.2 660.6
L1121.8 664.5L1121.8 664.6L1122.5 668.5L1123.1 672.5L1123.8 676.4L1124.5 680.4L1125.1 684.3L1125.2 685.0L1125.7 688.3L1126.3 692.2L1126.9 696.2
L1127.4 700.1L1128.0 704.1L1128.6 708.1L1129.1 712.0L1129.6 715.1L1129.7 716.0L1130.4 719.9L1131.0 723.9L1131.6 727.8L1132.3 731.8L1132.9 735.7
L1133.5 739.7L1133.7 740.7L1134.2 743.6L1134.8 747.6L1135.4 751.5L1136.1 755.5L1136.7 759.4L1137.3 763.4L1137.4 764.1L1137.9 767.3L1138.5 771.3
L1139.1 775.3L1139.6 779.2L1140.2 783.2L1140.8 787.1L1141.3 790.4L1141.4 791.1L1142.0 795.0L1142.7 799.0L1143.3 802.9L1144.0 806.9L1144.6 810.8
L1145.0 813.1L1145.3 814.8L1145.9 818.7L1146.4 822.7L1147.0 826.6L1147.6 830.6L1148.2 834.6L1148.8 838.5L1149.1 840.2L1149.5 842.4L1150.2 846.4
L1151.0 850.3L1151.7 854.2L1152.5 858.2L1153.2 862.1L1153.3 862.8L1153.8 866.0L1154.5 870.0L1155.0 874.0L1155.6 877.9L1156.2 881.9L1156.8 885.8
L1157.4 889.2L1157.5 889.8L1158.2 893.7L1158.9 897.6L1159.7 901.6L1160.5 905.5L1161.2 909.4L1161.8 912.5L1162.0 913.3L1162.7 917.3L1163.4 921.2
L1164.1 925.2L1164.8 929.1L1165.5 933.0L1166.2 937.0L1166.3 937.3L1167.0 940.9L1167.8 944.8L1168.7 948.7L1169.6 952.6L1170.4 956.5L1171.2 960.4
L1171.4 961.4L1172.0 964.4L1172.7 968.3L1173.4 972.2L1174.1 976.2L1174.8 980.1L1175.6 984.0L1176.1 986.3L1176.5 987.9L1177.4 991.8L1178.5 995.7
L1179.6 999.5L1180.6 1003.4L1181.6 1007.3L1182.4 1010.4L1182.6 1011.2L1183.4 1015.1L1184.2 1019.0L1184.9 1022.9L1185.7 1026.9L1186.5 1030.8
L1187.4 1034.7L1187.5 1035.3L1188.3 1038.5L1189.4 1042.4L1190.6 1046.2L1191.7 1050.1L1192.9 1053.9L1194.1 1057.7L1194.6 1059.4L1195.2 1061.5
L1196.3 1065.4L1197.4 1069.2L1198.5 1073.1L1199.6 1076.9L1200.8 1080.8L1201.4 1082.8L1202.0 1084.6L1203.2 1088.4L1204.4 1092.2L1205.7 1096.0
L1207.0 1099.8L1208.3 1103.6L1209.2 1106.0L1209.7 1107.3L1211.1 1111.0L1212.6 1114.7L1214.1 1118.4L1215.7 1122.1L1217.3 1125.8L1218.9 1129.5
L1219.2 1130.2L1220.5 1133.1L1222.1 1136.8L1223.7 1140.5L1225.4 1144.1L1227.1 1147.7L1228.8 1151.3L1229.1 1151.9L1230.6 1154.9L1232.5 1158.4
L1234.4 1161.9L1236.4 1165.4L1238.4 1168.9L1240.5 1172.3L1241.6 1174.1L1242.6 1175.7L1244.8 1179.0L1247.0 1182.4L1249.3 1185.7L1251.7 1188.9
L1254.2 1192.1L1256.0 1194.3L1256.7 1195.1L1259.3 1198.1L1262.0 1201.0L1264.9 1203.9L1267.7 1206.7L1270.7 1209.5L1273.7 1212.1L1274.3 1212.6
L1276.7 1214.6L1279.9 1217.1L1283.1 1219.6L1286.4 1221.9L1289.7 1224.1L1293.1 1226.2L1294.5 1227.0L1296.6 1228.1L1300.1 1230.0L1303.7 1231.7
L1307.4 1233.4L1311.1 1235.0L1314.8 1236.5L1318.5 1237.9L1320.0 1238.5L1322.2 1239.3L1326.0 1240.7L1329.8 1242.0L1333.6 1243.2L1337.4 1244.4
L1341.3 1245.5L1343.5 1246.2L1345.1 1246.7L1348.9 1247.9L1352.8 1249.2L1356.6 1250.3L1360.5 1251.3L1364.4 1252.0L1364.7 1252.0L1368.3 1252.4
L1372.3 1252.7L1376.3 1253.0L1380.3 1253.3L1384.3 1253.5L1388.3 1253.8L1389.7 1253.9L1392.3 1254.1L1396.3 1254.4L1400.3 1254.7L1404.3 1254.9
L1408.3 1255.3L1412.3 1255.6L1414.7 1255.8L1416.2 1256.0L1420.2 1256.4L1424.2 1256.9L1428.2 1257.4L1432.1 1258.0L1436.1 1258.4L1438.8 1258.7
L1440.1 1258.8L1444.1 1259.2L1448.0 1259.6L1452.0 1260.0L1456.0 1260.4L1460.0 1260.6L1464.0 1260.7L1464.8 1260.7L1468.0 1260.7L1472.0 1260.7
L1476.0 1260.7L1480.0 1260.7L1484.0 1260.7L1488.0 1260.7L1489.8 1260.7L1492.0 1260.7L1496.0 1260.8L1500.0 1260.9L1504.0 1261.1L1508.0 1261.3
L1512.0 1261.5L1514.8 1261.6L1516.0 1261.6L1520.0 1261.8L1524.0 1262.0L1528.0 1262.3L1532.0 1262.4L1536.0 1262.6L1539.8 1262.6L1540.0 1262.6
L1544.0 1262.6L1548.0 1262.6L1552.0 1262.6L1556.0 1262.6L1560.0 1262.6L1564.0 1262.6L1564.8 1262.6L1568.0 1262.6L1572.0 1262.8L1576.0 1262.9
L1576.0 1262.9
M1590.8 1264.3L1613.8 1265.2M1639.3 1265.1L1663.3 1266.0M1690.8 1265.5L1700.0 1263.5L1706.9 1261.1L1710.7 1262.5M1736.0 1267.5L1749.2 1264.3L1759.0 1267.5M1770.8 1265.1L1771.2 1271.8L1782.6 1264.1M1805.1 1266.2L1815.0 1263.5L1825.4 1261.1L1826.8 1261.5M1848.2 1260.1L1860.5 1262.0L1869.0 1259.1M1887.0 1266.5L1895.4 1258.2L1905.4 1265.1M1926.1 1258.2L1933.5 1264.9L1944.0 1262.0M1950.0 1260.8L1954.6 1260.1L1962.0 1261.4L1970.9 1260.0"/>
<path id="s-5mt" stroke="#0070C0" stroke-dasharray="36.5 51" d="M110.5 1232.1L114.5 1232.3L118.5 1232.5L122.5 1232.7L126.5 1232.9L130.5 1233.0L134.5 1233.2L138.5 1233.4L142.5 1233.6L146.5 1233.7L150.5 1233.9
L154.5 1234.1L158.5 1234.2L162.5 1234.4L166.5 1234.5L170.5 1234.6L174.5 1234.8L178.5 1234.9L182.5 1235.0L186.4 1235.1L190.4 1235.2L194.4 1235.3
L198.4 1235.4L202.4 1235.5L206.4 1235.6L210.4 1235.6L214.4 1235.7L215.0 1235.7L218.4 1235.7L222.4 1235.8L226.4 1235.8L230.4 1235.9L234.4 1235.9
L238.4 1236.0L242.4 1236.0L246.4 1236.1L250.4 1236.1L254.4 1236.1L258.4 1236.2L262.4 1236.2L266.4 1236.2L270.4 1236.3L274.4 1236.3L278.4 1236.3
L282.4 1236.3L286.4 1236.4L290.4 1236.4L294.4 1236.4L298.4 1236.4L302.4 1236.4L304.0 1236.4L306.4 1236.4L310.4 1236.4L314.4 1236.4L318.4 1236.4
L322.4 1236.4L326.4 1236.3L330.4 1236.3L334.4 1236.3L338.4 1236.2L342.4 1236.2L346.4 1236.2L350.4 1236.1L354.4 1236.1L358.4 1236.1L362.4 1236.0
L366.4 1236.0L370.4 1235.9L374.4 1235.9L378.4 1235.8L382.4 1235.8L386.4 1235.7L390.4 1235.7L391.0 1235.7L394.4 1235.7L398.4 1235.6L402.4 1235.6
L406.4 1235.5L410.4 1235.5L414.4 1235.4L418.4 1235.4L422.4 1235.3L426.4 1235.3L430.4 1235.2L434.4 1235.2L438.4 1235.1L442.4 1235.1L446.4 1235.0
L450.4 1234.9L454.4 1234.9L458.4 1234.8L462.4 1234.7L466.4 1234.7L470.4 1234.6L474.4 1234.6L477.6 1234.5L478.4 1234.5L482.4 1234.4L486.4 1234.3
L490.4 1234.3L494.4 1234.2L498.4 1234.1L502.4 1234.1L506.4 1234.0L510.4 1233.9L514.4 1233.8L518.4 1233.7L522.4 1233.6L526.4 1233.6L530.4 1233.5
L534.4 1233.4L538.4 1233.3L542.4 1233.2L546.4 1233.1L550.4 1233.0L554.4 1232.9L558.4 1232.8L562.4 1232.7L566.4 1232.6L566.6 1232.6L570.4 1232.5
L574.4 1232.4L578.4 1232.3L582.4 1232.2L586.4 1232.1L590.4 1232.0L594.4 1231.8L598.4 1231.7L602.4 1231.6L606.4 1231.5L610.4 1231.3L614.4 1231.2
L618.4 1231.1L622.4 1231.0L626.4 1230.8L630.4 1230.7L634.4 1230.5L638.4 1230.4L642.4 1230.2L646.4 1230.1L650.4 1230.0L654.3 1229.8L654.4 1229.8
L658.4 1229.6L662.4 1229.5L666.4 1229.3L670.4 1229.2L674.4 1229.0L678.4 1228.9L682.4 1228.7L686.4 1228.5L690.4 1228.4L694.4 1228.2L698.4 1228.0
L702.4 1227.8L706.3 1227.6L710.3 1227.4L714.3 1227.2L718.3 1227.0L722.3 1226.8L726.3 1226.6L730.3 1226.3L734.3 1226.1L738.3 1225.8L740.9 1225.6
L742.3 1225.5L746.2 1225.2L750.2 1224.8L754.2 1224.5L758.2 1224.0L762.1 1223.6L766.1 1223.1L770.1 1222.7L774.0 1222.1L778.0 1221.6L782.0 1221.1
L785.9 1220.5L789.9 1219.9L793.9 1219.3L797.8 1218.7L801.8 1218.1L805.7 1217.5L809.7 1216.8L813.7 1216.2L817.6 1215.6L821.6 1214.9L825.5 1214.3
L827.4 1214.0L829.5 1213.7L833.5 1213.1L837.5 1212.5L841.4 1211.8L845.3 1211.0L848.6 1210.2L849.1 1210.1L852.8 1208.9L856.5 1207.5L860.2 1205.9
L863.8 1204.1L867.3 1202.1L870.9 1200.0L874.3 1197.8L877.7 1195.5L881.1 1193.2L884.3 1190.9L887.0 1189.0L887.5 1188.6L890.7 1186.3L893.9 1183.8
L897.1 1181.3L900.2 1178.6L903.3 1175.9L906.3 1173.1L909.1 1170.2L911.8 1167.2L914.4 1164.2L916.8 1161.2L917.5 1160.2L919.0 1158.0L921.1 1154.8
L923.1 1151.4L925.0 1147.9L926.9 1144.4L928.7 1140.7L930.4 1137.1L932.1 1133.3L933.7 1129.6L935.3 1125.8L936.8 1122.1L938.3 1118.4L939.0 1116.7
L939.8 1114.7L941.2 1110.9L942.6 1107.2L944.0 1103.4L945.3 1099.6L946.6 1095.8L947.8 1092.0L949.0 1088.2L950.2 1084.4L951.3 1080.5L951.4 1080.2
L952.4 1076.7L953.5 1072.8L954.5 1069.0L955.5 1065.1L956.5 1061.2L957.5 1057.3L958.4 1053.5L959.3 1049.6L960.3 1045.7L961.2 1041.8L962.1 1037.9
L963.0 1034.0L963.1 1033.4L963.9 1030.1L964.7 1026.2L965.6 1022.3L966.5 1018.4L967.3 1014.4L968.2 1010.5L969.0 1006.6L969.8 1002.7L970.5 998.8
L971.2 995.3L971.3 994.8L972.0 990.9L972.7 987.0L973.4 983.0L974.1 979.1L974.7 975.1L975.4 971.2L976.0 967.2L976.6 963.3L977.2 959.3L977.8 955.4
L978.4 951.4L979.0 947.5L979.2 946.3L979.6 943.5L980.2 939.6L980.7 935.6L981.3 931.6L981.9 927.7L982.4 923.7L983.0 919.7L983.2 918.0L983.5 915.8
L984.1 911.8L984.7 907.9L985.3 903.9L985.8 900.0L986.4 896.0L987.0 892.0L987.6 888.1L988.2 884.1L988.7 880.2L989.3 876.2L989.9 872.2L990.4 868.3
L990.9 864.3L991.4 860.6L991.4 860.3L991.9 856.4L992.4 852.4L992.8 848.4L993.3 844.5L993.7 840.5L994.2 836.5L994.6 832.5L995.0 828.5L995.5 824.6
L995.8 821.9L996.0 820.6L996.4 816.6L996.9 812.7L997.4 808.7L997.9 804.7L998.4 800.8L998.9 796.8L999.5 792.8L999.9 788.8L1000.4 784.9L1000.9 780.9
L1001.3 776.9L1001.7 773.6L1001.8 773.0L1002.2 769.0L1002.6 765.0L1002.9 761.0L1003.3 757.0L1003.7 753.0L1004.0 749.1L1004.4 745.1L1004.7 741.1
L1005.1 737.1L1005.3 734.8L1005.5 733.1L1005.8 729.1L1006.2 725.2L1006.5 721.2L1006.9 717.2L1007.2 713.2L1007.5 709.2L1007.9 705.2L1008.2 701.2
L1008.6 697.3L1008.9 693.3L1009.3 689.3L1009.7 685.3L1010.1 681.3L1010.2 680.0L1010.5 677.4L1010.9 673.4L1011.3 669.4L1011.8 665.4L1012.2 661.4
L1012.7 657.5L1013.1 653.5L1013.5 649.5L1013.6 648.4L1013.9 645.5L1014.3 641.6L1014.6 637.6L1015.0 633.6L1015.3 629.6L1015.7 625.6L1016.0 621.6
L1016.4 617.6L1016.7 613.7L1017.0 609.7L1017.4 605.7L1017.7 601.7L1018.0 598.7L1018.1 597.7L1018.4 593.7L1018.8 589.7L1019.2 585.8L1019.5 581.8
L1019.9 577.8L1020.2 573.8L1020.6 569.8L1020.9 565.8L1021.3 561.9L1021.4 560.7L1021.6 557.9L1022.0 553.9L1022.3 549.9L1022.6 545.9L1023.0 541.9
L1023.3 537.9L1023.6 534.0L1024.0 530.0L1024.3 526.0L1024.6 522.0L1025.0 518.0L1025.3 514.0L1025.6 510.9L1025.7 510.0L1026.0 506.1L1026.4 502.1
L1026.8 498.1L1027.2 494.1L1027.6 490.1L1028.0 486.2L1028.4 482.2L1028.8 478.2L1029.1 474.2L1029.3 472.5L1029.5 470.2L1029.9 466.2L1030.3 462.3
L1030.6 458.3L1031.0 454.3L1031.4 450.3L1031.7 446.3L1032.1 442.4L1032.5 438.4L1032.8 434.4L1033.2 430.4L1033.5 426.7L1033.5 426.4L1033.9 422.4
L1034.2 418.4L1034.5 414.5L1034.8 410.5L1035.1 406.5L1035.4 402.5L1035.8 398.5L1036.1 394.5L1036.4 390.5L1036.8 386.5L1037.0 383.8L1037.1 382.6
L1037.5 378.6L1037.9 374.6L1038.3 370.6L1038.7 366.6L1039.1 362.7L1039.5 358.7L1039.9 354.7L1040.3 350.7L1040.7 346.7L1041.1 342.8L1041.5 339.0
L1041.5 338.8L1041.9 334.8L1042.3 330.8L1042.7 326.8L1043.1 322.9L1043.5 318.9L1043.9 314.9L1044.3 310.9L1044.7 306.9L1045.1 303.0L1045.6 299.0
L1045.8 297.0L1046.0 295.0L1046.5 291.0L1047.0 287.1L1047.4 283.1L1047.9 279.1L1048.4 275.1L1049.0 271.2L1049.5 267.2L1050.0 263.3L1050.6 259.3
L1051.2 255.3L1051.8 251.4L1052.0 250.2L1052.4 247.4L1053.1 243.5L1053.7 239.5L1054.4 235.6L1055.2 231.6L1055.9 227.7L1056.8 223.7L1057.7 219.9
L1058.6 216.0L1059.4 213.2L1059.7 212.2L1060.9 208.3L1062.4 204.4L1064.1 200.9L1065.0 199.5L1066.5 197.6L1069.7 195.0L1070.0 195.0L1072.6 196.7
L1075.2 200.5L1075.5 201.0L1077.0 203.9L1078.6 207.6L1079.9 211.4L1081.1 215.3L1081.9 218.0L1082.2 219.2L1083.2 223.0L1084.2 226.9L1085.1 230.8
L1085.9 234.7L1086.7 238.6L1087.4 242.6L1088.1 246.5L1088.9 250.5L1089.6 254.4L1089.7 255.1L1090.3 258.4L1091.0 262.3L1091.6 266.2L1092.3 270.2
L1092.9 274.1L1093.5 278.1L1094.1 282.1L1094.7 286.0L1095.3 290.0L1095.9 293.9L1096.5 297.9L1097.1 301.8L1097.1 301.9L1097.7 305.8L1098.3 309.7
L1098.9 313.7L1099.5 317.7L1100.1 321.6L1100.7 325.6L1101.3 329.5L1101.8 333.5L1102.4 337.4L1103.0 341.4L1103.3 343.8L1103.5 345.4L1104.1 349.3
L1104.6 353.3L1105.1 357.3L1105.6 361.2L1106.1 365.2L1106.6 369.2L1107.1 373.1L1107.6 377.1L1108.1 381.1L1108.6 385.0L1109.1 389.0L1109.2 389.7
L1109.6 393.0L1110.1 396.9L1110.5 400.9L1111.0 404.9L1111.4 408.9L1111.9 412.8L1112.3 416.8L1112.8 420.8L1113.3 424.8L1113.8 428.7L1114.0 430.6
L1114.3 432.7L1114.8 436.7L1115.3 440.6L1115.9 444.6L1116.5 448.5L1117.0 452.5L1117.6 456.5L1118.2 460.4L1118.8 464.4L1119.3 468.3L1119.9 472.3
L1120.4 476.0L1120.4 476.3L1121.0 480.2L1121.5 484.2L1122.0 488.2L1122.6 492.1L1123.1 496.1L1123.6 500.1L1124.1 504.0L1124.6 508.0L1125.1 512.0
L1125.5 515.3L1125.6 515.9L1126.0 519.9L1126.4 523.9L1126.9 527.9L1127.3 531.8L1127.7 535.8L1128.0 539.8L1128.4 543.8L1128.8 547.8L1129.2 551.8
L1129.6 555.7L1130.1 559.7L1130.5 563.7L1130.6 564.3L1131.0 567.7L1131.5 571.6L1132.0 575.6L1132.5 579.6L1133.1 583.5L1133.6 587.5L1134.1 591.4
L1134.7 595.4L1135.2 599.4L1135.7 603.1L1135.7 603.3L1136.2 607.3L1136.8 611.3L1137.3 615.2L1137.8 619.2L1138.3 623.2L1138.8 627.1L1139.3 631.1
L1139.8 635.1L1140.3 639.0L1140.8 643.0L1141.3 647.0L1141.9 650.9L1141.9 651.3L1142.4 654.9L1142.9 658.9L1143.4 662.9L1143.9 666.8L1144.4 670.8
L1144.9 674.8L1145.4 678.7L1145.8 682.0L1145.9 682.7L1146.4 686.7L1146.9 690.6L1147.4 694.6L1147.9 698.6L1148.4 702.5L1148.9 706.5L1149.4 710.5
L1150.0 714.4L1150.5 718.4L1151.0 722.4L1151.5 726.3L1152.0 730.3L1152.5 734.3L1153.0 737.8L1153.1 738.2L1153.6 742.2L1154.1 746.2L1154.6 750.1
L1155.2 754.1L1155.7 758.1L1156.2 762.0L1156.8 766.0L1157.3 769.9L1157.9 773.9L1158.2 776.5L1158.4 777.9L1158.9 781.8L1159.4 785.8L1160.0 789.8
L1160.5 793.7L1161.0 797.7L1161.5 801.7L1162.1 805.6L1162.6 809.6L1163.1 813.6L1163.7 817.5L1164.2 821.5L1164.7 824.8L1164.8 825.4L1165.4 829.4
L1165.9 833.4L1166.5 837.3L1167.1 841.3L1167.7 845.2L1168.3 849.2L1169.0 853.1L1169.6 857.1L1170.2 861.0L1170.6 863.6L1170.8 865.0L1171.5 868.9
L1172.1 872.9L1172.7 876.8L1173.4 880.8L1174.1 884.7L1174.7 888.7L1175.4 892.6L1176.0 896.6L1176.7 900.5L1177.4 904.4L1178.1 908.4L1178.7 912.0
L1178.8 912.3L1179.4 916.3L1180.1 920.2L1180.8 924.2L1181.5 928.1L1182.2 932.0L1182.9 936.0L1183.6 939.9L1184.3 943.8L1185.1 947.8L1185.3 949.0
L1185.8 951.7L1186.5 955.6L1187.3 959.6L1188.0 963.5L1188.8 967.4L1189.5 971.4L1190.3 975.3L1191.1 979.2L1191.9 983.1L1192.6 987.1L1193.5 991.0
L1194.3 994.9L1194.8 997.3L1195.1 998.8L1196.0 1002.7L1196.9 1006.6L1197.8 1010.5L1198.7 1014.4L1199.6 1018.3L1200.6 1022.2L1201.5 1026.1
L1202.5 1029.9L1203.4 1033.8L1203.6 1034.6L1204.4 1037.7L1205.3 1041.6L1206.2 1045.5L1207.2 1049.4L1208.1 1053.3L1209.1 1057.2L1210.0 1061.0
L1211.0 1064.9L1212.0 1068.8L1213.0 1072.7L1214.0 1076.5L1215.1 1080.4L1215.8 1082.8L1216.2 1084.2L1217.3 1088.1L1218.5 1091.9L1219.7 1095.7
L1220.9 1099.5L1222.2 1103.3L1223.4 1107.1L1224.7 1110.9L1226.1 1114.7L1227.5 1118.4L1227.5 1118.5L1228.9 1122.1L1230.3 1125.9L1231.8 1129.6
L1233.3 1133.3L1234.9 1137.0L1236.5 1140.7L1238.1 1144.4L1239.8 1148.0L1241.5 1151.6L1243.2 1155.2L1244.9 1158.8L1246.7 1162.4L1247.3 1163.5
L1248.6 1165.9L1250.4 1169.5L1252.3 1173.1L1254.2 1176.6L1256.2 1180.2L1258.3 1183.6L1260.4 1187.1L1262.6 1190.4L1264.8 1193.6L1267.2 1196.8
L1267.5 1197.2L1269.6 1199.8L1272.2 1202.9L1274.8 1205.9L1277.6 1208.8L1280.4 1211.7L1283.4 1214.6L1286.4 1217.3L1289.4 1220.0L1292.5 1222.6
L1295.7 1225.1L1298.8 1227.5L1302.0 1229.8L1302.2 1229.9L1305.3 1232.0L1308.6 1234.2L1312.0 1236.3L1315.5 1238.4L1319.1 1240.4L1322.7 1242.3
L1326.3 1244.1L1330.0 1245.7L1333.7 1247.1L1336.8 1248.1L1337.4 1248.3L1341.2 1249.4L1345.0 1250.4L1348.9 1251.3L1352.8 1252.2L1356.7 1253.0
L1360.6 1253.8L1364.6 1254.5L1368.6 1255.2L1372.6 1255.9L1376.6 1256.6L1380.5 1257.2L1383.9 1257.8L1384.5 1257.9L1388.4 1258.6L1392.4 1259.3
L1396.3 1260.0L1400.3 1260.7L1404.2 1261.4L1408.2 1262.0L1412.2 1262.5L1416.1 1263.0L1420.1 1263.3L1423.4 1263.5L1424.1 1263.5L1428.1 1263.7
L1432.1 1263.8L1436.0 1263.9L1440.0 1263.9L1444.1 1264.0L1448.1 1264.1L1452.1 1264.1L1456.1 1264.2L1460.1 1264.3L1464.1 1264.3L1468.1 1264.4
L1470.5 1264.5L1472.1 1264.5L1476.1 1264.7L1480.1 1264.9L1484.1 1265.1L1488.1 1265.3L1492.1 1265.5L1496.0 1265.8L1500.0 1266.0L1504.0 1266.2
L1508.0 1266.3L1510.9 1266.4L1512.0 1266.4L1516.0 1266.5L1520.0 1266.6L1524.0 1266.7L1528.0 1266.8L1532.0 1266.9L1535.0 1266.9
M1559.5 1268.1L1595.9 1268.5M1643.9 1270.0L1668.0 1270.0L1679.9 1266.9M1724.3 1269.6L1759.9 1269.4M1810.1 1270.0L1820.0 1267.3L1832.0 1269.2L1843.8 1269.6M1887.2 1270.4L1897.0 1270.0L1907.7 1267.2L1919.9 1270.4M1948.2 1269.3L1960.0 1269.6L1967.0 1271.5L1972.4 1277.5L1968.6 1286.1"/>
</g>
<g font-family="'Liberation Serif', 'Times New Roman', serif" font-size="75" fill="#000">
<g text-anchor="end">
<text transform="translate(521.5 1302.5) scale(1 1.03)">0.0</text>
<text transform="translate(521.5 1100.8) scale(1 1.03)">0.2</text>
<text transform="translate(521.5 899.1) scale(1 1.03)">0.4</text>
<text transform="translate(521.5 697.5) scale(1 1.03)">0.6</text>
<text transform="translate(521.5 495.8) scale(1 1.03)">0.8</text>
<text transform="translate(521.5 294.1) scale(1 1.03)">1.0</text>
<text transform="translate(521.5 92.4) scale(1 1.03)">1.2</text>
</g>
<g text-anchor="middle">
<text transform="translate(110.5 1391.2) scale(1 1.03)">-50</text>
<text transform="translate(300.3 1391.2) scale(1 1.03)">-30</text>
<text transform="translate(490.0 1391.2) scale(1 1.03)">-10</text>
<text transform="translate(679.8 1391.2) scale(1 1.03)">10</text>
<text transform="translate(869.5 1391.2) scale(1 1.03)">30</text>
<text transform="translate(1059.3 1391.2) scale(1 1.03)">50</text>
<text transform="translate(1249.0 1391.2) scale(1 1.03)">70</text>
<text transform="translate(1438.8 1391.2) scale(1 1.03)">90</text>
<text transform="translate(1628.5 1391.2) scale(1 1.03)">110</text>
<text transform="translate(1818.3 1391.2) scale(1 1.03)">130</text>
<text transform="translate(2008.0 1391.2) scale(1 1.03)">150</text>
</g>
</g>
<g font-family="'Liberation Serif', 'Times New Roman', serif" font-size="83.6" fill="#000" text-anchor="middle">
<text transform="translate(1063.0 1486.0) scale(1 1.025)">Temperature, °C</text>
<text transform="translate(114.3 748.2) rotate(-90) scale(1 1.03)">Tan Delta</text>
<text transform="translate(1061.0 1596.8) scale(1 1.035)" font-size="82">(<tspan font-weight="bold">a</tspan>)</text>
</g>
<g fill="none" stroke-width="14" stroke-linecap="round">
<path stroke="#000000" d="M1358.9 189H1567.8"/>
<path stroke="#FF0000" stroke-dasharray="0 25" d="M1358.9 270H1567.8"/>
<path stroke="#00B050" stroke-dasharray="24 26" d="M1358.9 351H1567.8"/>
<path stroke="#0070C0" stroke-dasharray="36.5 51" d="M1358.9 432H1567.8"/>
</g>
<g font-family="'Liberation Serif', 'Times New Roman', serif" font-size="75" fill="#000">
<text transform="translate(1592.0 213.2) scale(1 1.03)">NEAT</text>
<text transform="translate(1592.0 294.2) scale(1 1.03)">1MT-05NT</text>
<text transform="translate(1592.0 375.2) scale(1 1.03)">3MT-05NT</text>
<text transform="translate(1592.0 456.2) scale(1 1.03)">5MT-05NT</text>
</g>
</svg>
</body>
</html>
